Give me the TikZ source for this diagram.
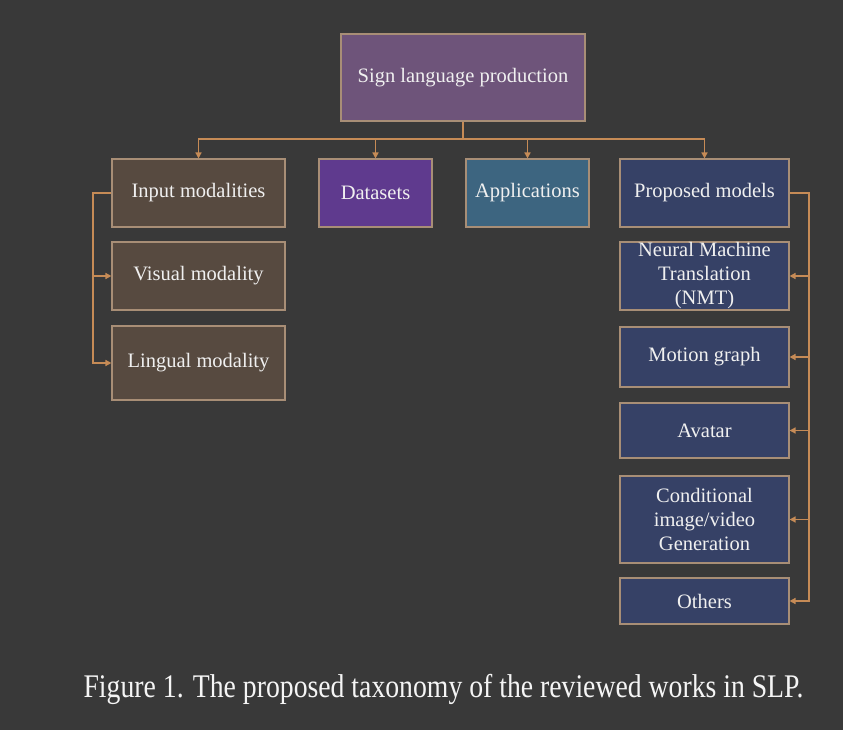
\documentclass[tikz,border=0pt]{standalone}
\usepackage{fontspec}
\setmainfont{Liberation Serif}
\usetikzlibrary{arrows.meta}
\definecolor{bg}{HTML}{393939}
\definecolor{wire}{HTML}{C68B56}
\definecolor{edgeline}{HTML}{A88E76}
\definecolor{slp}{HTML}{6E547A}
\definecolor{inp}{HTML}{574A40}
\definecolor{dat}{HTML}{5F3A8E}
\definecolor{app}{HTML}{3D6580}
\definecolor{mdl}{HTML}{364166}
\begin{document}
\begin{tikzpicture}[x=1pt,y=-1pt,>={Triangle[length=6pt,width=6pt]},
	box/.style={draw=edgeline,line width=1.1pt,text=white!88!gray,align=center,inner sep=0pt,
		font=\fontsize{20.5}{24}\selectfont},
	link/.style={draw=wire,line width=1.8pt}]
	\fill[bg] (0,0) rectangle (843,730);
	\useasboundingbox (0,0) rectangle (843,730);
	% top and first row
	\node (Sl) at (463,77.5) [box,fill=slp,minimum width=244pt,minimum height=87pt] {Sign language production};
	\node (In) at (198.5,193) [box,fill=inp,minimum width=173pt,minimum height=68pt] {Input modalities};
	\node (Da) at (375.5,193) [box,fill=dat,minimum width=113pt,minimum height=68pt] {Datasets};
	\node (Ap) at (527.5,193) [box,fill=app,minimum width=123pt,minimum height=68pt] {Applications};
	\node (Pm) at (704.5,193) [box,fill=mdl,minimum width=169pt,minimum height=68pt] {Proposed models};
	% input modalities
	\node (Vi) at (198.5,276) [box,fill=inp,minimum width=173pt,minimum height=68pt] {Visual modality};
	\node (Li) at (198.5,363) [box,fill=inp,minimum width=173pt,minimum height=74pt] {Lingual modality};
	% proposed models
	\node (Nm) at (704.5,276) [box,fill=mdl,minimum width=169pt,minimum height=68pt] {Neural Machine\\Translation\\(NMT)};
	\node (Mg) at (704.5,357) [box,fill=mdl,minimum width=169pt,minimum height=60pt] {Motion graph};
	\node (Av) at (704.5,430.5) [box,fill=mdl,minimum width=169pt,minimum height=55pt] {Avatar};
	\node (Cg) at (704.5,519.5) [box,fill=mdl,minimum width=169pt,minimum height=87pt] {Conditional\\image/video\\Generation};
	\node (Ot) at (704.5,601) [box,fill=mdl,minimum width=169pt,minimum height=46pt] {Others};
	% connectors
	\coordinate (bus) at (463,139);
	\coordinate (lb) at (93,0);
	\coordinate (rb) at (809,0);
	\foreach \n in {In,Da,Ap,Pm}
		\draw[link,->] (Sl.south) |- (bus -| \n) -- (\n.north);
	\draw[link,->] (In.west) -| (lb |- Li.west) -- (Li.west);
	\draw[link,->] (Vi.west -| lb) -- (Vi.west);
	\draw[link,->] (Pm.east) -| (rb |- Ot.east) -- (Ot.east);
	\foreach \n in {Nm,Mg,Av,Cg}
		\draw[link,->] (\n.east -| rb) -- (\n.east);
	% caption
	\node (Fc) at (443.5,689) [text=white!92!gray] {\scalebox{0.84}[1]{\fontsize{33}{36}\selectfont Figure 1. The proposed taxonomy of the reviewed works in SLP.}};
\end{tikzpicture}
\end{document}
